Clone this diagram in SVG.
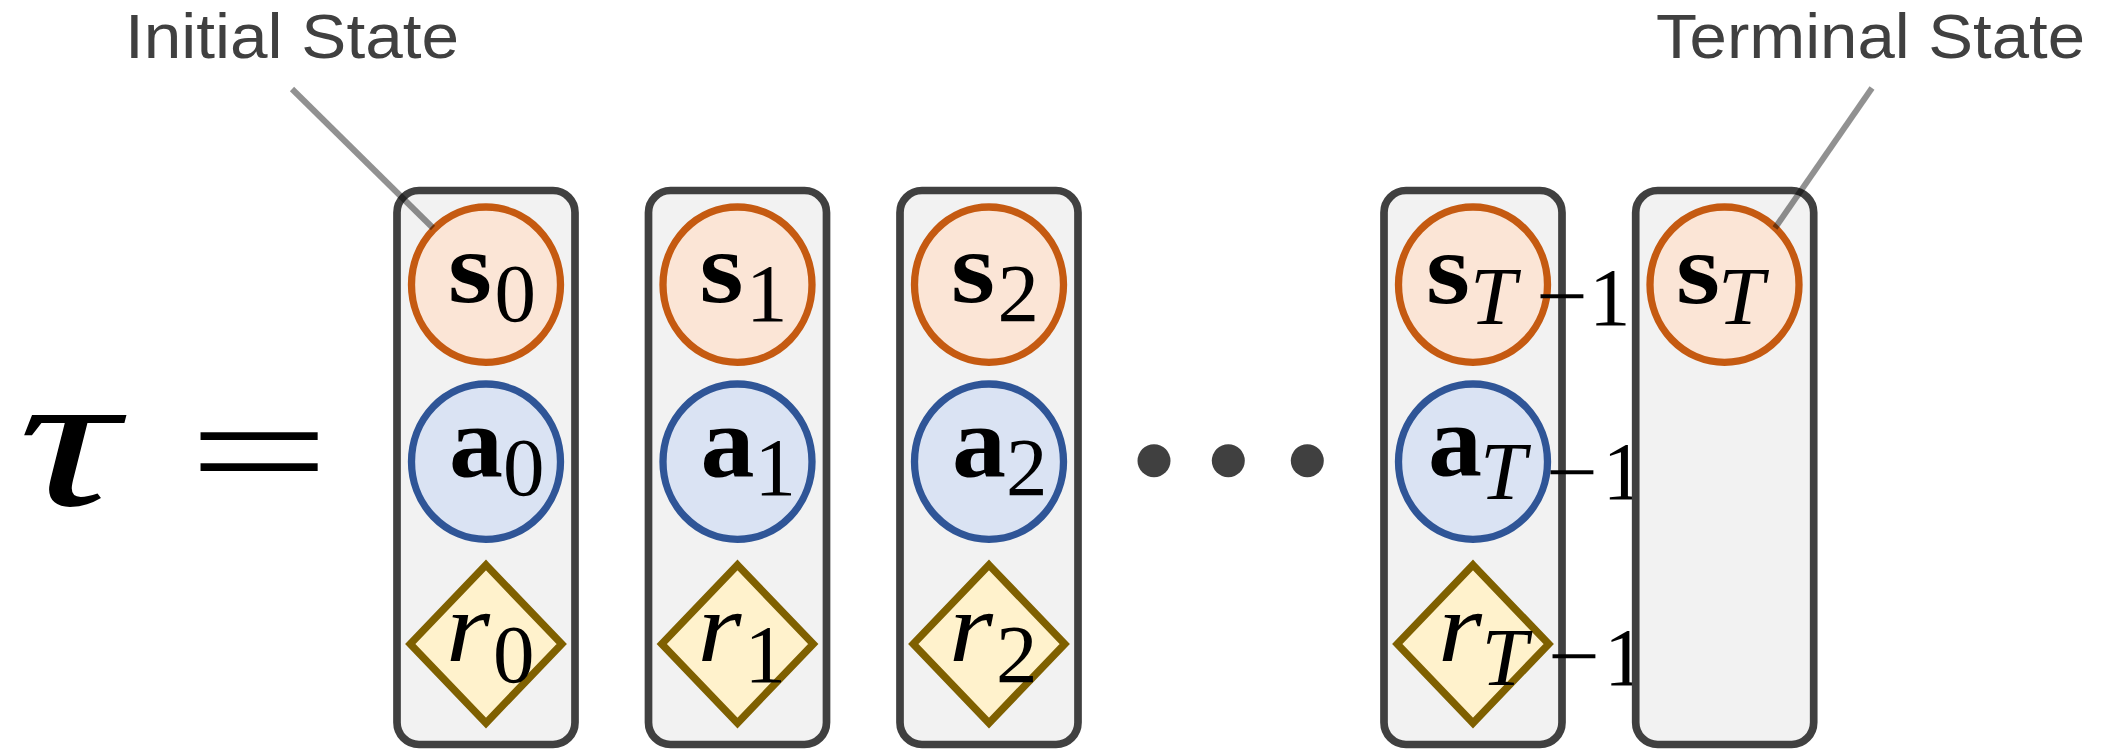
<svg xmlns="http://www.w3.org/2000/svg" width="2119" height="749" viewBox="0 0 2119 749">
<style>
.box{fill:#f2f2f2;stroke:#404040;stroke-width:7.7}
.st{fill:#fbe5d6;stroke:#c55a11;stroke-width:7.3}
.ac{fill:#dae3f3;stroke:#2f5597;stroke-width:7.3}
.rw{fill:#fff2cc;stroke:#7f6000;stroke-width:7.5;stroke-linejoin:miter}
.lbl{font-family:"Liberation Sans",Arial,sans-serif;font-size:63px;fill:#404040}
.b{font-family:"Liberation Serif",serif;font-weight:bold;font-size:102px;fill:#000}
.i{font-family:"Liberation Serif",serif;font-style:italic;font-size:100px;fill:#000}
.sub{font-family:"Liberation Serif",serif;font-size:83px;fill:#000}
.subi{font-family:"Liberation Serif",serif;font-style:italic;font-size:83px;fill:#000}
.lead{stroke:#000;stroke-opacity:0.43;stroke-width:6;fill:none}
.dot{fill:#404040}
</style>
<g id="tau-eq">
<text x="18" y="505" font-family="Liberation Serif,serif" font-style="italic" font-size="196" fill="#000" textLength="100" lengthAdjust="spacingAndGlyphs">τ</text>
<text x="188" y="503" font-family="Liberation Serif,serif" font-size="155" fill="#000" textLength="142" lengthAdjust="spacingAndGlyphs">=</text>
</g>
<g id="step0">
<rect class="box" x="397" y="190.5" width="178" height="554" rx="22"/>
<g id="s0"><ellipse class="st" cx="486" cy="284.7" rx="74.5" ry="77.7"/><text class="b" x="448" y="302" textLength="44" lengthAdjust="spacingAndGlyphs">s</text><text class="sub" x="494.5" y="321">0</text></g>
<g id="a0"><ellipse class="ac" cx="486" cy="461.7" rx="74.5" ry="77.7"/><text class="b" x="449" y="475.7" textLength="54" lengthAdjust="spacingAndGlyphs">a</text><text class="sub" x="503" y="495">0</text></g>
<g id="r0"><polygon class="rw" points="486,565 561.7,644 486,723 410.3,644"/><text class="i" x="446" y="661" textLength="44" lengthAdjust="spacingAndGlyphs">r</text><text class="sub" x="493" y="682">0</text></g>
</g>
<g id="step1">
<rect class="box" x="648.5" y="190.5" width="178" height="554" rx="22"/>
<g id="s1"><ellipse class="st" cx="737.5" cy="284.7" rx="74.5" ry="77.7"/><text class="b" x="699.5" y="302" textLength="44" lengthAdjust="spacingAndGlyphs">s</text><text class="sub" x="746" y="321">1</text></g>
<g id="a1"><ellipse class="ac" cx="737.5" cy="461.7" rx="74.5" ry="77.7"/><text class="b" x="700.5" y="475.7" textLength="54" lengthAdjust="spacingAndGlyphs">a</text><text class="sub" x="754.5" y="495">1</text></g>
<g id="r1"><polygon class="rw" points="737.5,565 813.2,644 737.5,723 661.8,644"/><text class="i" x="697.5" y="661" textLength="44" lengthAdjust="spacingAndGlyphs">r</text><text class="sub" x="744.5" y="682">1</text></g>
</g>
<g id="step2">
<rect class="box" x="900" y="190.5" width="178" height="554" rx="22"/>
<g id="s2"><ellipse class="st" cx="989" cy="284.7" rx="74.5" ry="77.7"/><text class="b" x="951" y="302" textLength="44" lengthAdjust="spacingAndGlyphs">s</text><text class="sub" x="997.5" y="321">2</text></g>
<g id="a2"><ellipse class="ac" cx="989" cy="461.7" rx="74.5" ry="77.7"/><text class="b" x="952" y="475.7" textLength="54" lengthAdjust="spacingAndGlyphs">a</text><text class="sub" x="1006" y="495">2</text></g>
<g id="r2"><polygon class="rw" points="989,565 1064.7,644 989,723 913.3,644"/><text class="i" x="949" y="661" textLength="44" lengthAdjust="spacingAndGlyphs">r</text><text class="sub" x="996" y="682">2</text></g>
</g>
<g id="ellipsis">
<circle class="dot" cx="1154" cy="460.7" r="16.5"/>
<circle class="dot" cx="1228.3" cy="460.7" r="16.5"/>
<circle class="dot" cx="1307.3" cy="460.7" r="16.5"/>
</g>
<g id="stepTm1">
<rect class="box" x="1384" y="190.5" width="178" height="554" rx="22"/>
<g id="sTm1"><ellipse class="st" cx="1473" cy="284.7" rx="74.5" ry="77.7"/><text class="b" x="1426" y="303" textLength="44" lengthAdjust="spacingAndGlyphs">s</text><text class="subi" x="1470" y="324">T</text><text class="sub" x="1536" y="324" textLength="52" lengthAdjust="spacingAndGlyphs">−</text><text class="sub" x="1589" y="325">1</text></g>
<g id="aTm1"><ellipse class="ac" cx="1473" cy="461.7" rx="74.5" ry="77.7"/><text class="b" x="1428" y="475" textLength="54" lengthAdjust="spacingAndGlyphs">a</text><text class="subi" x="1480" y="499">T</text><text class="sub" x="1546" y="500" textLength="52" lengthAdjust="spacingAndGlyphs">−</text><text class="sub" x="1602.5" y="499">1</text></g>
<g id="rTm1"><polygon class="rw" points="1473,565 1548.7,644 1473,723 1397.3,644"/><text class="i" x="1438" y="660.7" textLength="44" lengthAdjust="spacingAndGlyphs">r</text><text class="subi" x="1481.5" y="685">T</text><text class="sub" x="1548" y="684" textLength="52" lengthAdjust="spacingAndGlyphs">−</text><text class="sub" x="1604" y="685">1</text></g>
</g>
<g id="stepT">
<rect class="box" x="1635.7" y="190.5" width="178" height="554" rx="22"/>
<g id="sT"><ellipse class="st" cx="1724.5" cy="284.7" rx="74.5" ry="77.7"/><text class="b" x="1676" y="303" textLength="44" lengthAdjust="spacingAndGlyphs">s</text><text class="subi" x="1718" y="324">T</text></g>
</g>
<g id="label-initial"><text class="lbl" x="125" y="58" textLength="334" lengthAdjust="spacingAndGlyphs">Initial State</text></g>
<g id="label-terminal"><text class="lbl" x="1656" y="58" textLength="429" lengthAdjust="spacingAndGlyphs">Terminal State</text></g>
<g id="connectors">
<line class="lead" x1="292" y1="89" x2="433" y2="228"/>
<line class="lead" x1="1872" y1="88" x2="1775" y2="228"/>
</g>
</svg>
